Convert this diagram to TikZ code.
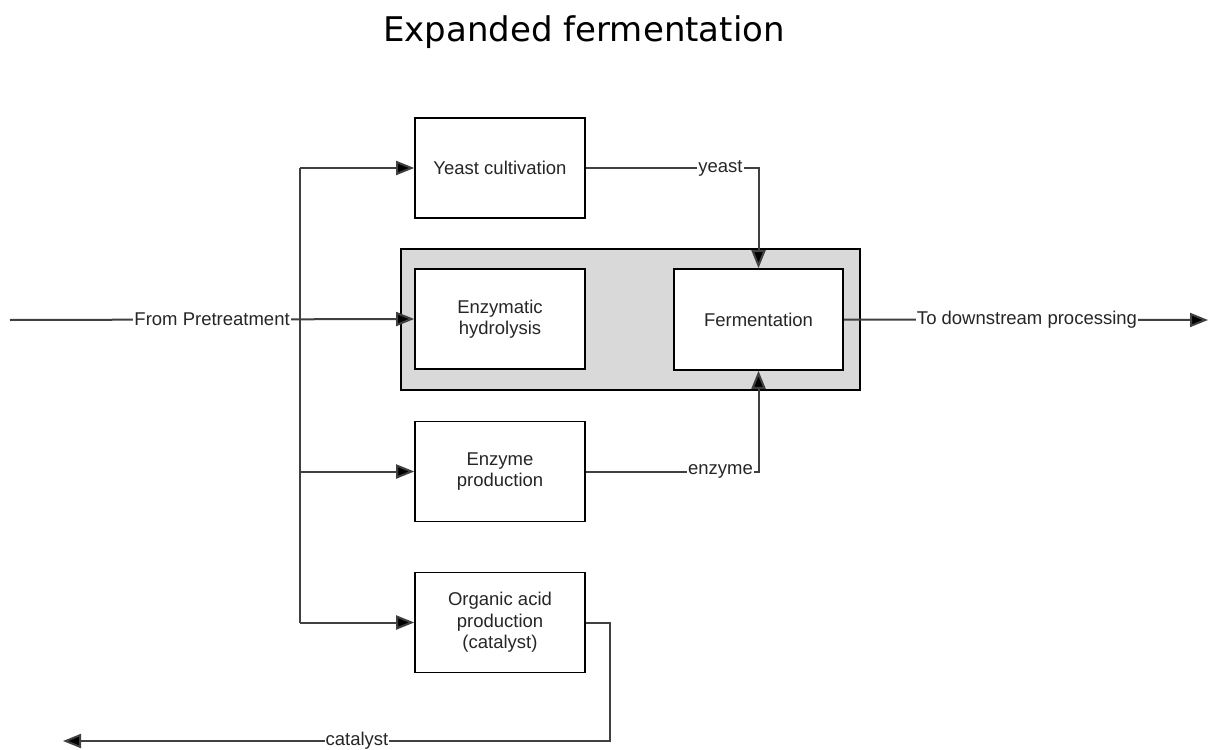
\documentclass[tikz,border=0pt]{standalone}
\usepackage{fontspec}
\setmainfont{Liberation Sans}
\newfontfamily\titlefont{DejaVu Sans}
\usetikzlibrary{arrows.meta}
\definecolor{linegray}{HTML}{404040}
\definecolor{boxfill}{HTML}{D9D9D9}
\definecolor{txt}{HTML}{262626}
\begin{document}
\begin{tikzpicture}[x=1pt,y=-1pt,
  box/.style={draw=black,line width=1.6pt,fill=white,minimum width=170pt,minimum height=100pt,align=center,inner sep=0pt,text=txt,font=\fontsize{18.5}{21.5}\selectfont},
  group/.style={draw=black,line width=1.6pt,fill=boxfill,minimum width=459pt,minimum height=141pt,inner sep=0pt},
  conn/.style={draw=linegray,line width=2pt},
  arr/.style={conn,-{Triangle[length=18pt,width=14pt,fill=black]}},
  lbl/.style={fill=white,inner sep=1pt,text=txt,font=\fontsize{18.5}{21.5}\selectfont}]
\useasboundingbox (0,0) rectangle (1209,749);
\node[font=\titlefont\fontsize{34}{40}\selectfont,text=black] (title) at (584,32) {Expanded fermentation};
\node[group] (grp) at (630.5,319.5) {};
\node[box] (yeast) at (500,168) {Yeast cultivation};
\node[box] (hydro) at (500,319) {Enzymatic\\hydrolysis};
\node[box,minimum width=169pt,minimum height=101pt] (ferm) at (758.5,319.5) {Fermentation};
\node[box] (enz) at (500,471.5) {Enzyme\\production};
\node[box] (org) at (500,622.5) {Organic acid\\production\\(catalyst)};
\coordinate (start) at (10,320);
\coordinate (t1) at (300,168);
\coordinate (t2) at (300,471.5);
\coordinate (t3) at (300,622.5);
\coordinate (out) at (1208,320);
\coordinate (c1) at (610,622.5);
\coordinate (c2) at (610,741);
\coordinate (cend) at (63,741);
\draw[conn] (t1) -- (t3);
\draw[arr] (start) -- node[lbl,pos=0.5]{From Pretreatment} (hydro.west);
\draw[arr] (t1) -- (yeast.west);
\draw[arr] (t2) -- (enz.west);
\draw[arr] (t3) -- (org.west);
\draw[arr] (yeast.east) -- node[lbl,pos=0.78]{yeast} (yeast.east -| ferm.north) -- (ferm.north);
\draw[arr] (enz.east) -- node[lbl,pos=0.78]{enzyme} (enz.east -| ferm.south) -- (ferm.south);
\draw[arr] (ferm.east) -- node[lbl,pos=0.503]{To downstream processing} (out);
\draw[arr] (org.east) -- (c1) -- (c2) -- node[lbl,pos=0.4625]{catalyst} (cend);
\end{tikzpicture}
\end{document}
